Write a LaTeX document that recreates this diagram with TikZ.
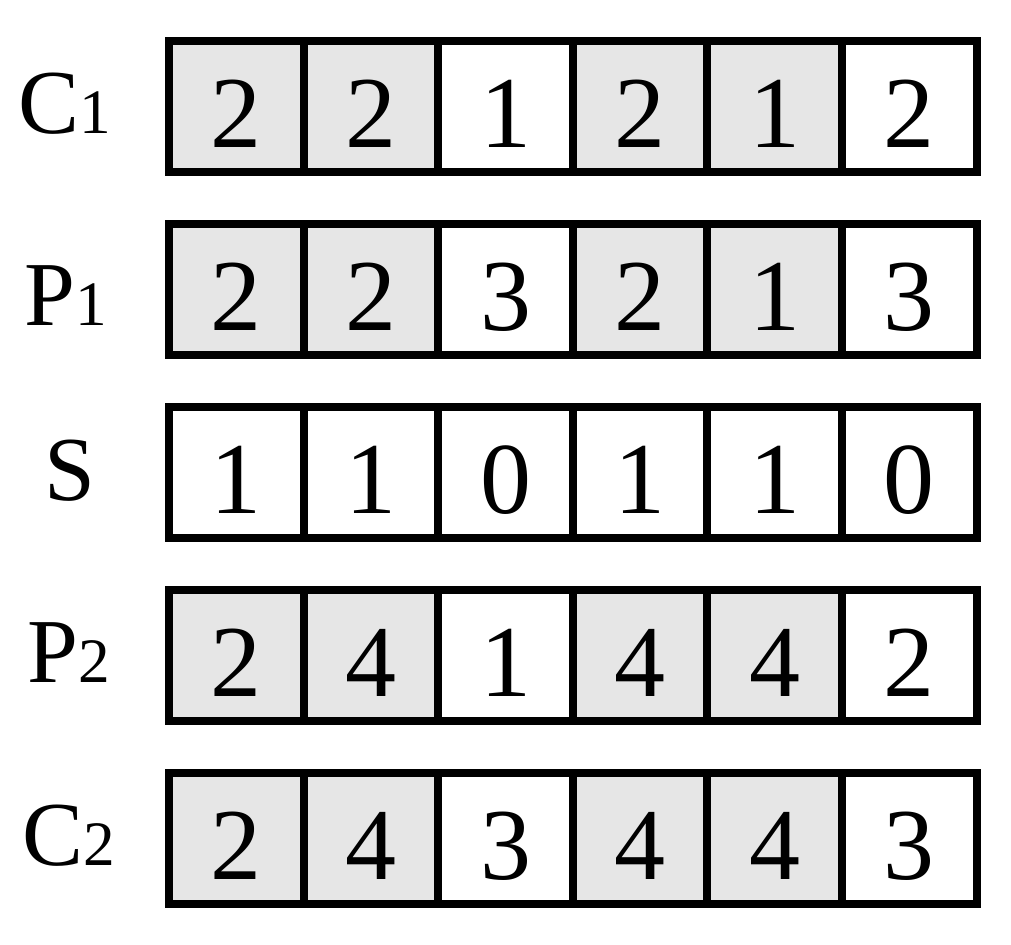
\documentclass[tikz,border=0pt]{standalone}
\usepackage{fontspec}
\setmainfont{Liberation Serif}
\definecolor{cellgray}{RGB}{230,230,230}

\begin{document}
\begin{tikzpicture}
[x=0.01cm,y=-0.01cm,%%%%%%%%%%%%%%%%%%%%%%%%%%%%%%
cell/.style={rectangle,draw=black,line width=0.08cm,minimum width=1.346cm,minimum height=1.315cm,inner sep=0pt},
shaded/.style={cell,fill=cellgray},
digit/.style={anchor=base,inner sep=0pt,font=\fontsize{29}{29}\selectfont},
rowname/.style={anchor=base,inner sep=0pt,font=\fontsize{26}{26}\selectfont},
]%%%%%%%%%%%%%%%%%%%%%%%%%%%%%%
\useasboundingbox (0,0) rectangle (1011,944);
\newcommand{\sub}[1]{{\fontsize{18}{18}\selectfont #1}}
\foreach \row/\ypos/\vals in {%
c1/106.5/{2/shaded,2/shaded,1/cell,2/shaded,1/shaded,2/cell},
p1/289.5/{2/shaded,2/shaded,3/cell,2/shaded,1/shaded,3/cell},
s/472.5/{1/cell,1/cell,0/cell,1/cell,1/cell,0/cell},
p2/655.5/{2/shaded,4/shaded,1/cell,4/shaded,4/shaded,2/cell},
c2/838.5/{2/shaded,4/shaded,3/cell,4/shaded,4/shaded,3/cell}}{
\foreach \v/\kind [count=\i] in \vals{
\node[\kind] (\row-\i) at (101.7+134.6*\i,\ypos){};
\node[digit] (\row-\i-t) at (101.7+134.6*\i,\ypos+40.5){\v};
}
}
\node[rowname] (c1-name) at (65,133.5){C\sub{1}};
\node[rowname] (p1-name) at (66,325){P\sub{1}};
\node[rowname] (s-name) at (70,500){S};
\node[rowname] (p2-name) at (69,682.5){P\sub{2}};
\node[rowname] (c2-name) at (69,865.5){C\sub{2}};
\end{tikzpicture}
\end{document}
